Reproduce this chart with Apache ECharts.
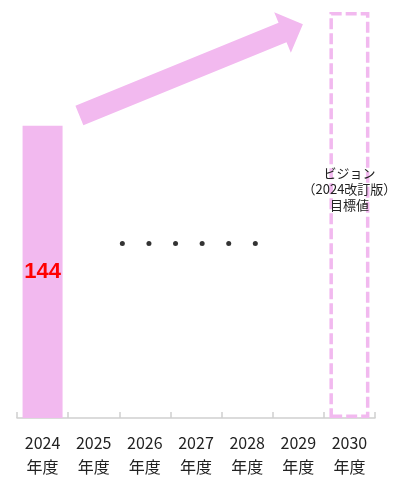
<!DOCTYPE html>
<html>
<head>
<meta charset="utf-8">
<script src="https://cdn.jsdelivr.net/npm/echarts@6/dist/echarts.min.js"></script>
<style>
  html, body { margin: 0; padding: 0; background: #fff; }
  #chart { width: 409px; height: 479px; }
</style>
</head>
<body>
<div id="chart"></div>
<script>
const years = ['2024\n年度', '2025\n年度', '2026\n年度', '2027\n年度', '2028\n年度', '2029\n年度', '2030\n年度']
const actual = [144, '-', '-', '-', '-', '-', '-']
const target = ['-', '-', '-', '-', '-', '-', 200]
const targetLabel = 'ビジョン\n（2024改訂版）\n目標値'

// arrow: [x from, y from, x to, y to] in category index / value units
const arrow = [[0.72, 149, 5.09, 194]]
// the "・・・・・・" between the two bars
const dotsX = [1.56, 2.08, 2.6, 3.12, 3.64, 4.16]
const dotsY = 86

const pink = '#f2b9ef'

const chart = echarts.init(document.getElementById('chart'))

function renderArrow(params, api) {
  const p0 = api.coord([api.value(0), api.value(1)])
  const p1 = api.coord([api.value(2), api.value(3)])
  const dx = p1[0] - p0[0]
  const dy = p1[1] - p0[1]
  const len = Math.sqrt(dx * dx + dy * dy)
  const ux = dx / len, uy = dy / len
  const nx = -uy, ny = ux
  const shaftHalf = 10.5, headHalf = 22, headLen = 22
  const bx = p1[0] - ux * headLen, by = p1[1] - uy * headLen
  const pts = [
    [p0[0] + nx * shaftHalf, p0[1] + ny * shaftHalf],
    [bx + nx * shaftHalf, by + ny * shaftHalf],
    [bx + nx * headHalf, by + ny * headHalf],
    [p1[0], p1[1]],
    [bx - nx * headHalf, by - ny * headHalf],
    [bx - nx * shaftHalf, by - ny * shaftHalf],
    [p0[0] - nx * shaftHalf, p0[1] - ny * shaftHalf]
  ]
  return { type: 'polygon', shape: { points: pts }, style: { fill: pink } }
}

const option = {
  animation: false,
  textStyle: { fontFamily: '"Noto Sans CJK JP", "Noto Sans", sans-serif' },
  grid: { left: 17, right: 34, top: 12, bottom: 59 },
  xAxis: [
    {
      type: 'category',
      data: years,
      axisLine: { lineStyle: { color: '#d0d0d0', width: 1.5 } },
      axisTick: { show: true, inside: true, length: 6, lineStyle: { color: '#d0d0d0', width: 1.5 } },
      axisLabel: { color: '#222', fontSize: 16, lineHeight: 24, margin: 13 }
    },
    { type: 'value', min: -0.5, max: 6.5, show: false }
  ],
  yAxis: { type: 'value', min: 0, max: 200, show: false },
  series: [
    {
      type: 'bar',
      data: actual,
      barWidth: 40,
      barGap: '-100%',
      itemStyle: { color: pink },
      label: {
        show: true,
        position: 'inside',
        color: '#ff0000',
        fontWeight: 'bold',
        fontSize: 22,
        fontFamily: '"Liberation Sans", Arial, sans-serif'
      }
    },
    {
      type: 'bar',
      data: target,
      barWidth: 40,
      itemStyle: {
        color: 'rgba(0,0,0,0)',
        borderColor: pink,
        borderWidth: 3.5,
        borderType: [11, 4]
      },
      label: {
        show: true,
        position: 'inside',
        offset: [0, -26],
        formatter: targetLabel,
        color: '#222',
        fontSize: 13,
        lineHeight: 16
      }
    },
    {
      type: 'custom',
      xAxisIndex: 1,
      renderItem: renderArrow,
      data: arrow,
      silent: true
    },
    {
      type: 'scatter',
      xAxisIndex: 1,
      data: dotsX.map(x => [x, dotsY]),
      symbolSize: 5,
      itemStyle: { color: '#000' },
      silent: true
    }
  ]
}

chart.setOption(option)
</script>
</body>
</html>
